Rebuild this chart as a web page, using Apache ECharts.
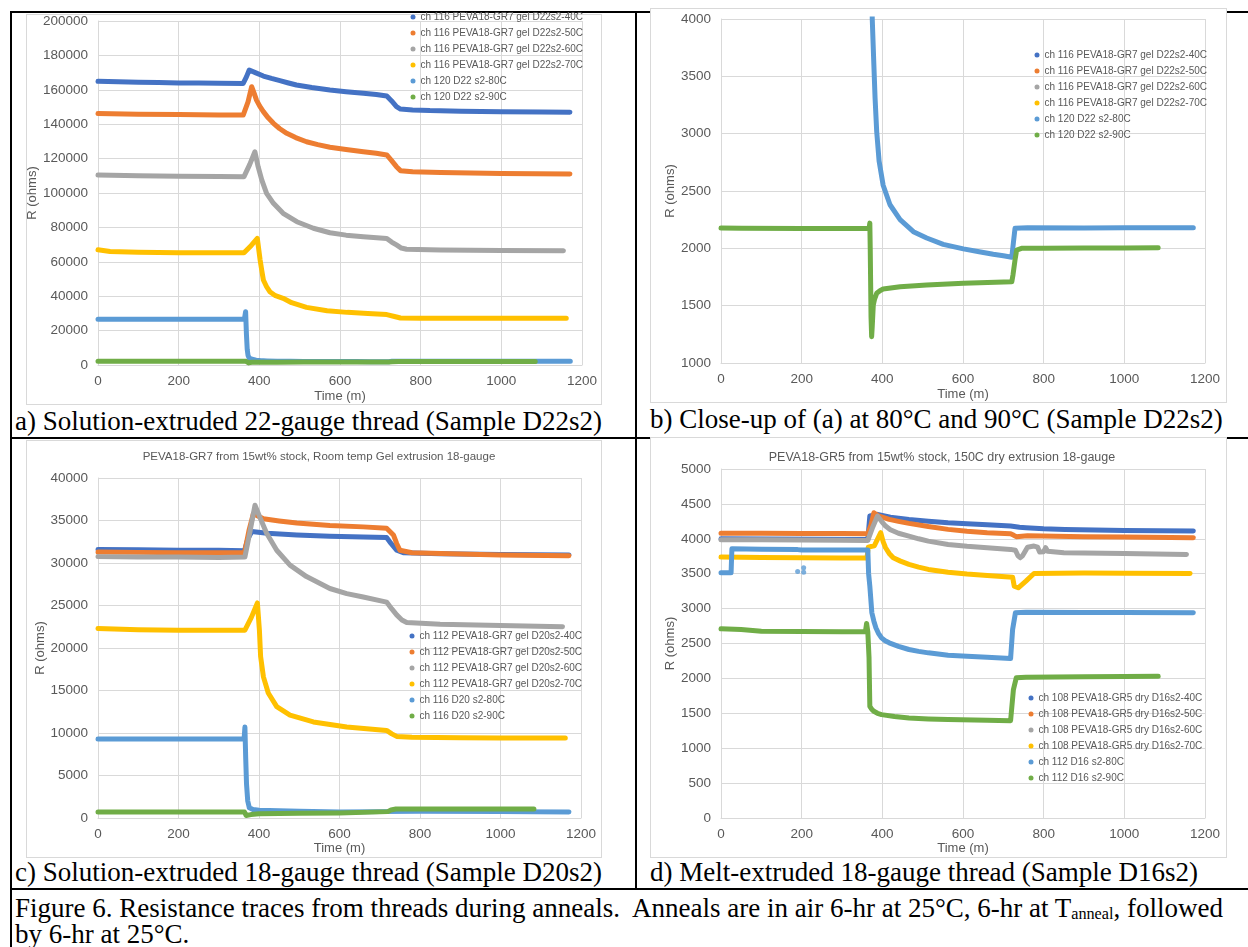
<!DOCTYPE html>
<html>
<head>
<meta charset="utf-8">
<script src="https://cdn.jsdelivr.net/npm/echarts@6/dist/echarts.min.js"></script>
<style>
  html, body { margin:0; padding:0; background:#fff; }
  body { width:1248px; height:947px; position:relative; overflow:hidden; }
  .ln { position:absolute; background:#000; }
  .box { position:absolute; background:#fff; border:1px solid #d9d9d9; box-sizing:border-box; }
  .cap { position:absolute; font-family:"Liberation Serif","Times New Roman",serif; font-size:27px; line-height:27px; color:#000; white-space:nowrap; }
  .cap sub { font-size:0.6em; vertical-align:-0.15em; line-height:0; }
  #chart { position:absolute; left:0; top:0; width:1248px; height:947px; }
</style>
</head>
<body>
<!-- table borders -->
<div class="ln" style="left:10px;top:11px;width:1238px;height:2px;"></div>
<div class="ln" style="left:10px;top:11px;width:2px;height:936px;"></div>
<div class="ln" style="left:635px;top:11px;width:2px;height:878px;"></div>
<div class="ln" style="left:10px;top:437px;width:1238px;height:2px;"></div>
<div class="ln" style="left:10px;top:888px;width:1238px;height:2px;"></div>
<!-- chart image areas -->
<div class="box" style="left:26px;top:14px;width:576px;height:391px;"></div>
<div class="box" style="left:650px;top:8px;width:577px;height:395px;"></div>
<div class="box" style="left:26px;top:440px;width:576px;height:418px;"></div>
<div class="box" style="left:650px;top:437px;width:577px;height:421px;"></div>
<!-- captions -->
<div class="cap" style="left:15px;top:408px;">a) Solution-extruded 22-gauge thread (Sample D22s2)</div>
<div class="cap" style="left:650px;top:406px;">b) Close-up of (a) at 80°C and 90°C (Sample D22s2)</div>
<div class="cap" style="left:15px;top:859px;">c) Solution-extruded 18-gauge thread (Sample D20s2)</div>
<div class="cap" style="left:650px;top:859px;">d) Melt-extruded 18-gauge thread (Sample D16s2)</div>
<div class="cap" style="left:15px;top:895px;">Figure 6. Resistance traces from threads during anneals.&nbsp; Anneals are in air 6-hr at 25°C, 6-hr at T<sub>anneal</sub>, followed</div>
<div class="cap" style="left:15px;top:921px;">by 6-hr at 25°C.</div>
<div id="chart"></div>
<script>
// ---------- names ----------
const namesA = ["ch 116 PEVA18-GR7 gel D22s2-40C","ch 116 PEVA18-GR7 gel D22s2-50C","ch 116 PEVA18-GR7 gel D22s2-60C","ch 116 PEVA18-GR7 gel D22s2-70C","ch 120 D22 s2-80C","ch 120 D22 s2-90C"];
const namesC = ["ch 112 PEVA18-GR7 gel D20s2-40C","ch 112 PEVA18-GR7 gel D20s2-50C","ch 112 PEVA18-GR7 gel D20s2-60C","ch 112 PEVA18-GR7 gel D20s2-70C","ch 116 D20 s2-80C","ch 116 D20 s2-90C"];
const namesD = ["ch 108 PEVA18-GR5 dry D16s2-40C","ch 108 PEVA18-GR5 dry D16s2-50C","ch 108 PEVA18-GR5 dry D16s2-60C","ch 108 PEVA18-GR5 dry D16s2-70C","ch 112 D16 s2-80C","ch 112 D16 s2-90C"];
const titleC = "PEVA18-GR7 from 15wt% stock, Room temp Gel extrusion 18-gauge";
const titleD = "PEVA18-GR5 from 15wt% stock, 150C dry extrusion 18-gauge";
const xTicks = [0,200,400,600,800,1000,1200];

// ---------- data: [time (m), R (ohms)] ----------
// Sample D22s2 (panels a and b)
const a40 = [[0,165000],[50,164700],[100,164400],[150,164200],[200,164000],[250,163900],[300,163800],[360,163700],[368,167500],[375,171500],[390,170000],[410,168000],[430,166600],[451,165300],[470,164100],[492,162800],[530,161300],[575,159900],[615,158900],[658,158000],[690,157300],[716,156400],[728,153500],[740,150200],[750,148800],[780,148300],[823,147900],[900,147600],[1000,147300],[1100,147100],[1170,147000]];
const a50 = [[0,146200],[100,145800],[200,145600],[300,145400],[360,145300],[372,153000],[381,161800],[387,158000],[393,154000],[401,150500],[410,147300],[422,143700],[435,140500],[450,137500],[468,134700],[490,132200],[517,129800],[545,128100],[575,126600],[615,125300],[658,124000],[690,123100],[716,122100],[728,118800],[740,115300],[750,113000],[780,112300],[850,111900],[1000,111400],[1170,111000]];
const a60 = [[0,110500],[100,110000],[200,109800],[300,109600],[362,109500],[376,116500],[389,124000],[397,115300],[406,107600],[418,99800],[435,94000],[459,88200],[493,83300],[534,79500],[575,76900],[615,75500],[658,74600],[716,73600],[728,71500],[740,69800],[752,68000],[765,67300],[850,66900],[1000,66600],[1154,66400]];
const a70 = [[0,67000],[30,66000],[100,65500],[200,65300],[300,65200],[362,65200],[380,69500],[395,73600],[402,61000],[406,55000],[410,49400],[418,45500],[426,42600],[440,40300],[459,38800],[480,36200],[517,33500],[568,31500],[618,30600],[669,30000],[716,29300],[735,28200],[750,27300],[800,27200],[1000,27200],[1161,27200]];
const a80 = [[0,26600],[100,26600],[200,26550],[300,26550],[363,26600],[366,31000],[368,18000],[370,9000],[372,5500],[375,4000],[379,3600],[382,3310],[386,3020],[392,2760],[402,2550],[419,2380],[444,2250],[477,2145],[510,2090],[551,2035],[601,1995],[640,1970],[675,1948],[700,1935],[721,1922],[725,2050],[729,2175],[760,2180],[900,2178],[1000,2180],[1100,2180],[1171,2180]];
const a90 = [[0,2178],[50,2175],[200,2172],[300,2172],[367,2172],[369,2220],[370,2000],[371,1700],[372,1400],[373.5,1230],[375,1320],[377.6,1506],[381,1560],[386,1608],[394,1630],[402,1645],[444,1665],[510,1680],[601,1695],[721,1709],[724,1770],[729,1900],[733,1985],[745,2000],[800,2000],[900,2002],[1000,2003],[1084,2004]];
// Sample D20s2 (panel c)
const c40 = [[0,31600],[100,31550],[200,31500],[300,31500],[364,31450],[372,32800],[382,33700],[420,33500],[494,33300],[576,33150],[659,33050],[717,33000],[728,32300],[742,31500],[760,31200],[850,31100],[1000,31000],[1170,30950]];
const c50 = [[0,31300],[100,31250],[200,31200],[300,31200],[364,31200],[375,33800],[386,35800],[411,35200],[450,34950],[494,34700],[576,34400],[659,34250],[717,34100],[734,33300],[742,32300],[750,31500],[780,31200],[900,31050],[1000,30950],[1170,30860]];
const c60 = [[0,30750],[100,30700],[200,30700],[300,30650],[365,30700],[378,33800],[390,36800],[402,35400],[419,33500],[444,31500],[477,29750],[518,28400],[576,27000],[618,26400],[659,26000],[717,25400],[730,24600],[742,23900],[755,23300],[767,23000],[850,22800],[1000,22650],[1154,22500]];
const c70 = [[0,22300],[100,22150],[200,22100],[300,22100],[365,22100],[381,23600],[396,25300],[401,22100],[404,19000],[411,16600],[423,14700],[444,13100],[477,12100],[535,11300],[618,10700],[717,10300],[730,9900],[742,9600],[780,9500],[900,9450],[1000,9400],[1161,9400]];
const c80 = [[0,9300],[100,9280],[200,9300],[300,9280],[363,9300],[365,10700],[367,7000],[369,4000],[372,2000],[376,1200],[385,1000],[400,900],[500,800],[600,720],[700,750],[800,800],[1000,750],[1170,700]];
const c90 = [[0,700],[100,700],[200,700],[300,700],[364,700],[368,300],[372,200],[380,400],[400,500],[500,550],[600,600],[720,750],[728,950],[740,1050],[900,1050],[1000,1050],[1083,1050]];
// Sample D16s2 (panel d)
const d40 = [[0,4000],[364,3990],[369,4326],[388,4350],[420,4310],[466,4278],[514,4252],[563,4230],[610,4215],[660,4202],[718,4183],[740,4165],[756,4159],[800,4145],[853,4135],[1000,4120],[1171,4111]];
const d50 = [[0,4078],[100,4078],[200,4076],[300,4075],[364,4073],[372,4200],[379,4374],[390,4330],[417,4278],[440,4250],[466,4221],[514,4175],[563,4135],[610,4108],[660,4087],[718,4073],[726,4050],[732,4030],[760,4045],[900,4030],[1000,4025],[1171,4015]];
const d60 = [[0,3987],[100,3985],[200,3982],[300,3980],[364,3977],[375,4150],[388,4326],[398,4250],[408,4183],[420,4130],[440,4080],[466,4039],[490,4000],[514,3967],[563,3919],[610,3893],[660,3872],[718,3848],[730,3835],[736,3760],[742,3728],[748,3760],[752,3800],[760,3880],[776,3896],[785,3880],[790,3810],[800,3815],[805,3872],[810,3820],[850,3800],[1000,3790],[1154,3776]];
const d70 = [[0,3738],[100,3732],[200,3728],[300,3726],[362,3724],[365,3880],[380,3900],[396,4087],[402,3960],[408,3872],[417,3790],[427,3728],[445,3680],[466,3633],[490,3595],[514,3561],[563,3522],[610,3495],[660,3474],[723,3450],[727,3322],[737,3298],[756,3394],[776,3503],[900,3510],[1000,3505],[1163,3503]];
const d80 = [[0,3513],[25,3513],[27,3857],[100,3850],[190,3845],[200,3840],[300,3840],[364,3838],[366,3500],[369,3322],[374,2940],[379,2820],[384,2725],[390,2650],[398,2581],[407,2540],[417,2510],[440,2460],[466,2414],[490,2387],[514,2366],[563,2333],[610,2316],[660,2304],[718,2285],[723,2700],[730,2940],[756,2949],[900,2945],[1000,2945],[1171,2940]];
const d80dots = [[190,3532],[205,3585],[205,3522]];
const d90 = [[0,2710],[50,2700],[100,2677],[200,2672],[300,2668],[358,2667],[361,2787],[364,2667],[367,2300],[369,1600],[374,1555],[379,1529],[388,1500],[398,1481],[430,1455],[466,1433],[514,1420],[563,1410],[660,1400],[718,1395],[725,1840],[732,2008],[756,2017],[900,2025],[1000,2028],[1084,2031]];

const colors = ['#4472C4','#ED7D31','#A5A5A5','#FFC000','#5B9BD5','#70AD47'];
const FONT = '"Liberation Sans", Arial, sans-serif';
const GRAY = '#595959';
const GRID = '#D9D9D9';

const grids = [
  {left:98, top:21, width:484, height:344},
  {left:721, top:19, width:484, height:344},
  {left:98, top:478, width:483, height:340},
  {left:721, top:469, width:484, height:349}
];
const yDefs = [
  {min:0, max:200000, interval:20000, gap:55},
  {min:1000, max:4000, interval:500, gap:44},
  {min:0, max:40000, interval:5000, gap:51},
  {min:0, max:5000, interval:500, gap:44}
];
const plain = v => String(v);
const xAxes = grids.map((g,i)=>({
  type:'value', gridIndex:i, min:xTicks[0], max:xTicks[xTicks.length-1], interval:xTicks[1]-xTicks[0],
  name:'Time (m)', nameLocation:'middle', nameGap: i<2?25:24,
  nameTextStyle:{color:GRAY, fontSize:13, fontFamily:FONT},
  axisLine:{show:true, lineStyle:{color:GRID, width:1}},
  axisTick:{show:false},
  axisLabel:{color:GRAY, fontSize:13.5, fontFamily:FONT, margin:9, formatter:plain},
  splitLine:{show:true, lineStyle:{color:GRID, width:1}}
}));
const yAxes = yDefs.map((d,i)=>({
  type:'value', gridIndex:i, min:d.min, max:d.max, interval:d.interval,
  name:'R (ohms)', nameLocation:'middle', nameGap:d.gap, nameRotate:90,
  nameTextStyle:{color:GRAY, fontSize:13, fontFamily:FONT},
  axisLine:{show:true, lineStyle:{color:GRID, width:1}},
  axisTick:{show:false},
  axisLabel:{color:GRAY, fontSize:13.5, fontFamily:FONT, margin:10, formatter:plain},
  splitLine:{show:true, lineStyle:{color:GRID, width:1}}
}));

function mk(name, data, idx, ci){
  return {
    name:name, type:'line', xAxisIndex:idx, yAxisIndex:idx, data:data,
    showSymbol:false, symbol:'circle', color:colors[ci], animation:false,
    lineStyle:{width:5, color:colors[ci], cap:'round', join:'round'},
    clip:true
  };
}
const series = [];
const setA = [a40,a50,a60,a70,a80,a90];
setA.forEach((d,k)=>series.push(mk(namesA[k], d, 0, k)));
setA.forEach((d,k)=>series.push(mk(namesA[k], d, 1, k)));
[c40,c50,c60,c70,c80,c90].forEach((d,k)=>series.push(mk(namesC[k], d, 2, k)));
[d40,d50,d60,d70,d80].forEach((d,k)=>series.push(mk(namesD[k], d, 3, k)));
series.push({name:namesD[4], type:'scatter', xAxisIndex:3, yAxisIndex:3, data:d80dots, symbolSize:5, color:colors[4], animation:false});
series.push(mk(namesD[5], d90, 3, 5));

function lg(names, left, top){
  return {
    data:names.map(n=>({name:n, icon:'circle'})), orient:'vertical', left:left, top:top,
    itemWidth:5, itemHeight:5, itemGap:0, padding:0, selectedMode:false,
    textStyle:{color:GRAY, fontSize:10, fontFamily:FONT, lineHeight:16}
  };
}

const option = {
  backgroundColor:'transparent',
  animation:false,
  title:[
    {text:titleC, left:314, top:446, textAlign:'center', textStyle:{color:GRAY, fontSize:11.5, fontWeight:'normal', fontFamily:FONT}},
    {text:titleD, left:937, top:446, textAlign:'center', textStyle:{color:GRAY, fontSize:12.5, fontWeight:'normal', fontFamily:FONT}}
  ],
  legend:[ lg(namesA,410.5,9), lg(namesA,1034.5,47), lg(namesC,409.5,628), lg(namesD,1028.5,690) ],
  grid:grids,
  xAxis:xAxes,
  yAxis:yAxes,
  series:series
};
const chart = echarts.init(document.getElementById('chart'), null, {renderer:'canvas'});
chart.setOption(option);
</script>
</body>
</html>
